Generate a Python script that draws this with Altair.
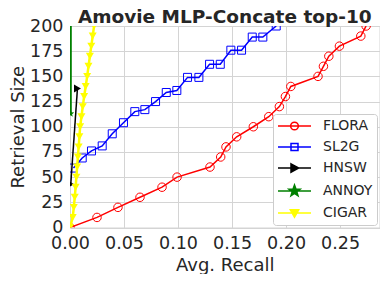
import math
import altair as alt
import pandas as pd

# ---------------- data ----------------
series = ["FLORA", "SL2G", "HNSW", "ANNOY", "CIGAR"]
colors = ["#ff0000", "#0000ff", "#000000", "#008000", "#ffff00"]
fills = ["transparent", "transparent", "#000000", "#008000", "#ffff00"]

flora_x = [0.0, 0.025, 0.0444, 0.0648, 0.0852, 0.0991, 0.1296, 0.1395, 0.1444,
           0.1543, 0.1697, 0.1840, 0.1938, 0.1994, 0.2044, 0.2296, 0.2346,
           0.2396, 0.2494, 0.2692, 0.2741]
flora_y = [0, 10, 20, 30, 40, 50, 60, 70, 80, 90, 100, 110, 120, 130, 140,
           150, 160, 170, 180, 190, 200]

sl2g_x = [0.0032, 0.0113, 0.0199, 0.0298, 0.0391, 0.0495, 0.0600, 0.0693,
          0.0792, 0.0891, 0.0989, 0.1088, 0.1193, 0.1292, 0.1391, 0.1489,
          0.1588, 0.1687, 0.1785, 0.1909]
sl2g_y = [59, 69, 76, 81, 93, 104, 115, 117, 125, 134, 136, 149, 149, 162,
          162, 176, 176, 189, 189, 200]

hnsw_x = [0.0007, 0.0069]
hnsw_y = [43, 138]

annoy_x = [0.0005, 0.0005]
annoy_y = [113, 300]

cigar_x = [0.0, 0.0025, 0.0035, 0.0044, 0.0052, 0.0059, 0.0066, 0.0073,
           0.0080, 0.0087, 0.0094, 0.0106, 0.0118, 0.0131, 0.0145, 0.0159,
           0.0171, 0.0184, 0.0197, 0.0210, 0.0223]
cigar_y = [0, 10, 20, 30, 40, 50, 60, 70, 80, 90, 100, 110, 120, 130, 140,
           150, 160, 170, 180, 190, 200]

x_ticks = [0.0, 0.05, 0.10, 0.15, 0.20, 0.25]
y_ticks = [0, 25, 50, 75, 100, 125, 150, 175, 200]

all_x = [flora_x, sl2g_x, hnsw_x, annoy_x, cigar_x]
all_y = [flora_y, sl2g_y, hnsw_y, annoy_y, cigar_y]

rows = []
for name, xs, ys in zip(series, all_x, all_y):
    for i, (xv, yv) in enumerate(zip(xs, ys)):
        rows.append({"series": name, "recall": xv, "size": yv, "order": i})
df = pd.DataFrame(rows)

# ---------------- styles ----------------
FONT = "DejaVu Sans"
TXT = "#262626"
GRID = "#d4d4d4"


def star(cx, R, r):
    pts = []
    for k in range(10):
        ang = math.radians(-90 + 36 * k)
        rad = R if k % 2 == 0 else r
        pts.append(f"{cx + rad * math.cos(ang):.3f},{rad * math.sin(ang):.3f}")
    return "M" + "L".join(pts) + "Z"


line_widths = [1.5, 1.5, 1.5, 2.5, 2.5]
marker = {
    "FLORA": dict(shape="circle", filled=False, size=72),
    "SL2G": dict(shape="square", filled=False, size=64),
    "HNSW": dict(shape="triangle-right", filled=True, size=64),
    "ANNOY": dict(shape=star(0, 1, 0.42), filled=True, size=60),
    "CIGAR": dict(shape="triangle-down", filled=True, size=64),
}

# legend symbols: horizontal line with the marker on it (units of 7 px)
A, B = -1.0, 3.714
M = (A + B) / 2
base = f"M{A},0H{B}"
legend_paths = [
    base + f"M{M-0.55:.3f},0A0.55,0.55 0 1 1 {M+0.55:.3f},0A0.55,0.55 0 1 1 {M-0.55:.3f},0Z",
    base + f"M{M-0.5:.3f},-0.5H{M+0.5:.3f}V0.5H{M-0.5:.3f}Z",
    base + f"M{M-0.5:.3f},-0.6L{M+0.6:.3f},0L{M-0.5:.3f},0.6Z",
    base + star(M, 0.85, 0.35),
    base + f"M{M-0.6:.3f},-0.45H{M+0.6:.3f}L{M:.3f},0.6Z",
]

x_enc = alt.X(
    "recall:Q",
    scale=alt.Scale(domain=[0, 0.2865], nice=False, zero=False),
    axis=alt.Axis(values=x_ticks, format=".2f", title="Avg. Recall",
                  labelFlush=False, labelOverlap=False),
)
y_enc = alt.Y(
    "size:Q",
    scale=alt.Scale(domain=[0, 200], nice=False),
    axis=alt.Axis(values=y_ticks, title="Retrieval Size",
                  labelFlush=False, labelOverlap=False),
)

layers = []
for name, col, lw in zip(series, colors, line_widths):
    base_chart = alt.Chart(df).transform_filter(alt.datum.series == name)
    layers.append(
        base_chart.mark_line(color=col, strokeWidth=lw, clip=True).encode(
            x=x_enc, y=y_enc, order="order:Q")
    )
    m = marker[name]
    layers.append(
        base_chart.mark_point(
            shape=m["shape"], filled=m["filled"], size=m["size"], color=col,
            strokeWidth=1, opacity=1, clip=True,
        ).encode(x=x_enc, y=y_enc)
    )

legend_df = pd.DataFrame({"series": series, "recall": [-1.0] * 5, "size": [-50] * 5})
leg = alt.Legend(title=None)
legend_layer = alt.Chart(legend_df).mark_point(opacity=1, clip=True, filled=False).encode(
    x=x_enc,
    y=y_enc,
    color=alt.Color("series:N", scale=alt.Scale(domain=series, range=colors), legend=leg),
    fill=alt.Fill("series:N", scale=alt.Scale(domain=series, range=fills), legend=leg),
    shape=alt.Shape("series:N", scale=alt.Scale(domain=series, range=legend_paths), legend=leg),
    strokeWidth=alt.StrokeWidth("series:N", scale=alt.Scale(domain=series, range=line_widths),
                                legend=leg),
)
layers.append(legend_layer)

chart = (
    alt.layer(*layers)
    .properties(
        width=309.5,
        height=201.5,
        autosize=alt.AutoSizeParams(type="none"),
        padding={"left": 62, "top": 18, "right": 0, "bottom": 46},
        title=alt.TitleParams(
            "Amovie MLP-Concate top-10", font=FONT, fontSize=18.5, fontWeight="bold",
            color=TXT, anchor="middle", frame="group", offset=-24, baseline="alphabetic",
        ),
    )
    .configure_view(stroke=GRID, strokeWidth=1)
    .configure_axis(
        grid=True, gridColor=GRID, gridWidth=1, domain=False, ticks=False, tickSize=0,
        labelFont=FONT, labelFontSize=17.5, labelColor=TXT, labelPadding=7,
        titleFont=FONT, titleFontSize=18, titleFontWeight="normal", titleColor=TXT,
    )
    .configure_axisX(titlePadding=4)
    .configure_axisY(titlePadding=2)
    .configure_legend(
        orient="bottom-right", offset=3, padding=4, strokeColor="#cccccc",
        fillColor="white", cornerRadius=3, labelFont=FONT, labelFontSize=14,
        labelColor=TXT, symbolSize=196, labelOffset=30, rowPadding=6,
    )
)

chart.save("out.html", embed_options={"renderer": "svg", "actions": False})
